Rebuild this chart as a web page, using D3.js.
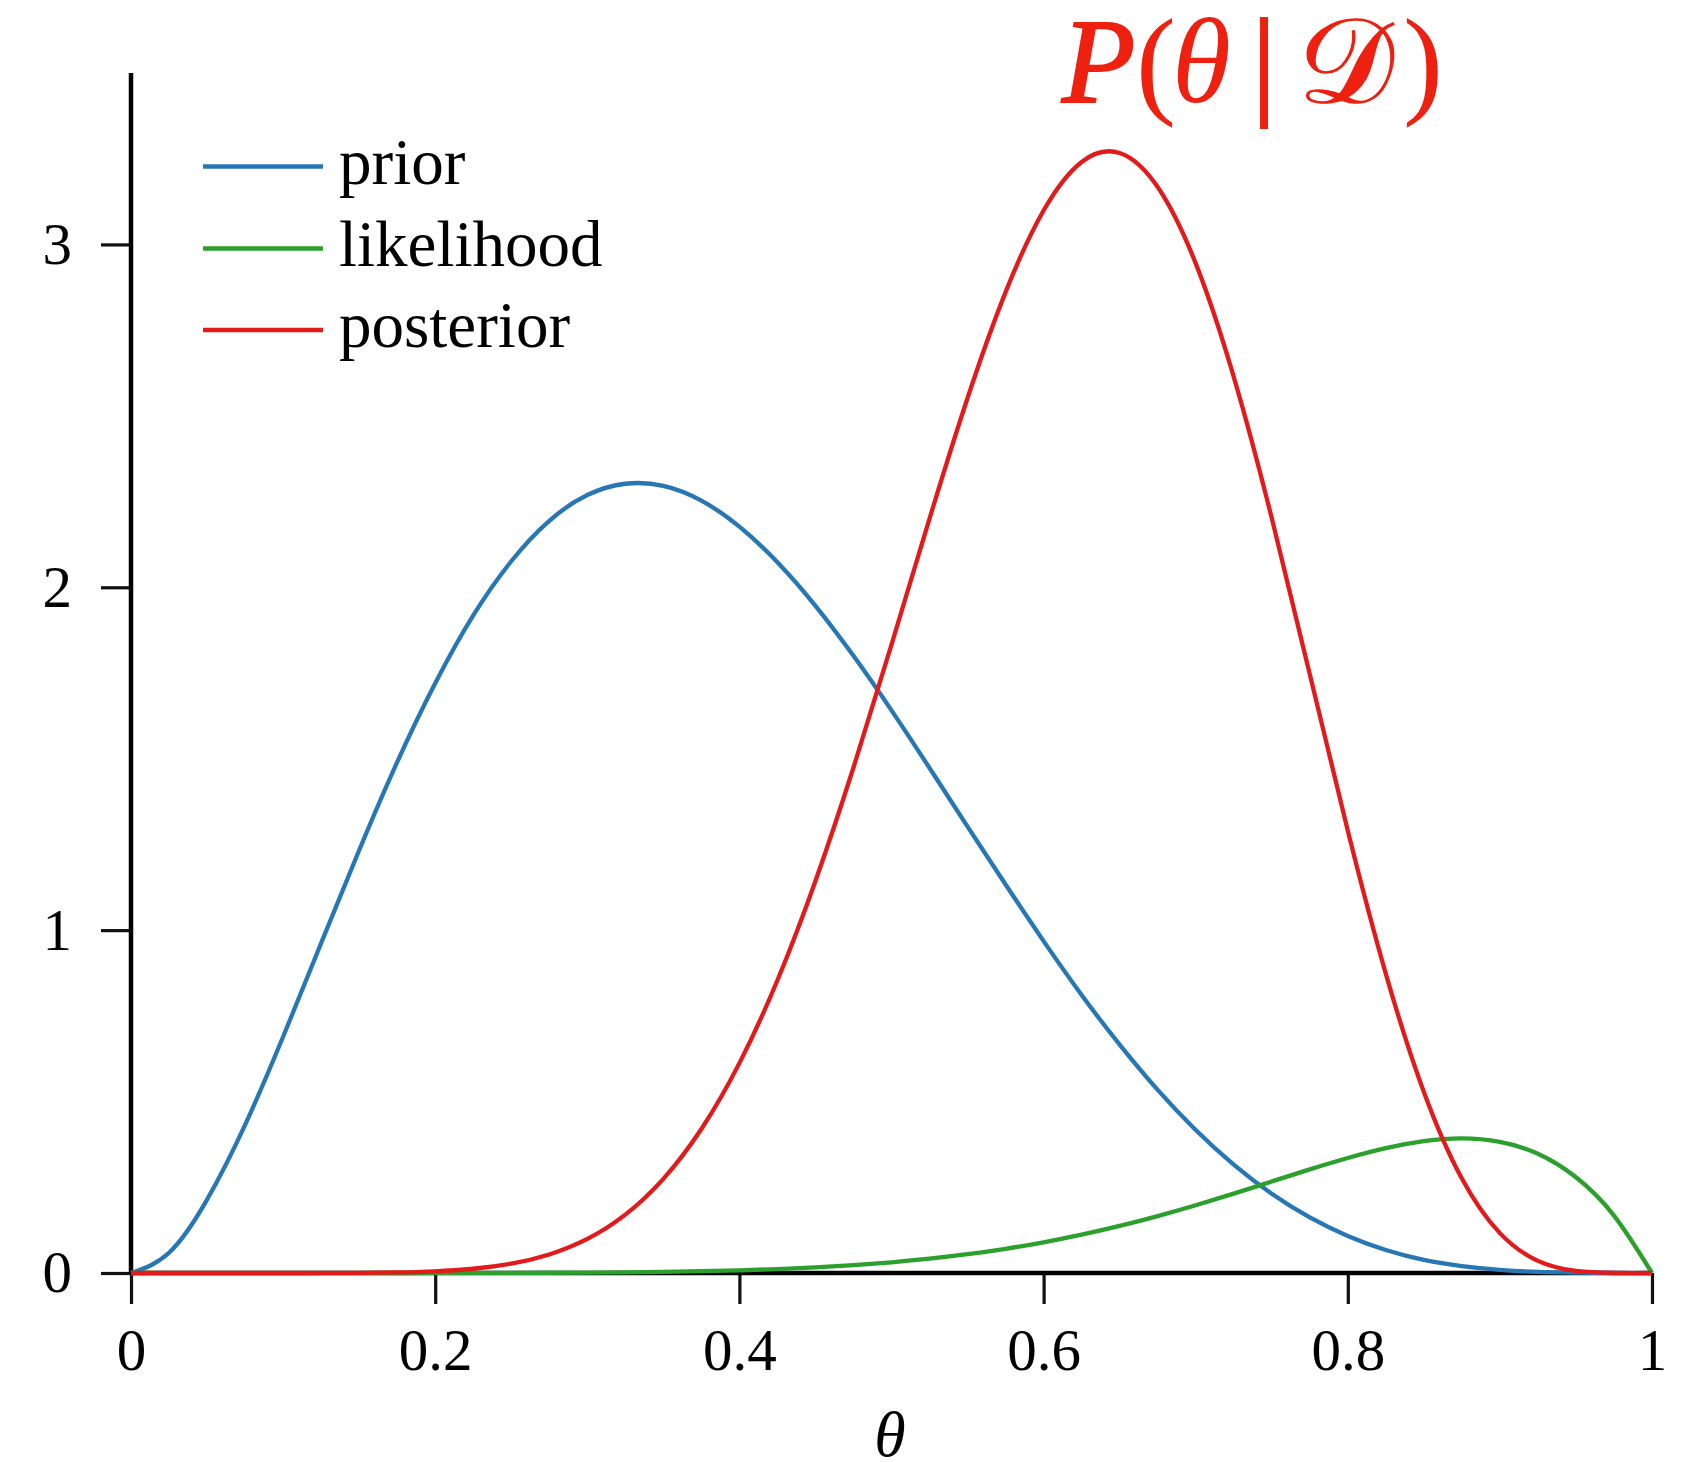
<!DOCTYPE html>
<html>
<head>
<meta charset="utf-8">
<script src="https://cdn.jsdelivr.net/npm/d3@7/dist/d3.min.js"></script>
<style>
  html, body { margin: 0; padding: 0; background: #fff; }
  svg { display: block; }
</style>
</head>
<body>
<svg id="chart"></svg>
<script>
// theta grid and curve values
const thetaValues = [0, 0.025, 0.05, 0.075, 0.1, 0.125, 0.15, 0.175, 0.2, 0.225,
    0.25, 0.275, 0.3, 0.325, 0.35, 0.375, 0.4, 0.425, 0.45, 0.475,
    0.5, 0.525, 0.55, 0.575, 0.6, 0.625, 0.65, 0.675, 0.7, 0.725,
    0.75, 0.775, 0.8, 0.825, 0.85, 0.875, 0.9, 0.925, 0.95, 0.975, 1];

const priorValues = [0, 0.059, 0.214, 0.432, 0.689, 0.962, 1.233, 1.490, 1.720, 1.918,
    2.076, 2.194, 2.269, 2.302, 2.296, 2.253, 2.177, 2.073, 1.946, 1.800,
    1.641, 1.473, 1.302, 1.133, 0.968, 0.811, 0.666, 0.534, 0.417, 0.316,
    0.231, 0.162, 0.108, 0.067, 0.038, 0.020, 0.009, 0.003, 0.001, 0, 0];

const likelihoodValues = [0, 0, 0, 0, 0, 0, 0, 0, 0.0001, 0.0002,
    0.0004, 0.0007, 0.0012, 0.0021, 0.0034, 0.0052, 0.0079, 0.0115, 0.0164, 0.0229,
    0.0313, 0.0418, 0.0548, 0.0707, 0.0896, 0.1118, 0.1373, 0.1660, 0.1976, 0.2316,
    0.2670, 0.3023, 0.3355, 0.3642, 0.3847, 0.3927, 0.3826, 0.3477, 0.2793, 0.1675, 0];

const posteriorValues = [0, 0, 0, 0, 0, 0.0001, 0.0005, 0.0018, 0.0050, 0.0124,
    0.0272, 0.0541, 0.0993, 0.1702, 0.2746, 0.4200, 0.6121, 0.8539, 1.1436, 1.4743,
    1.8329, 2.2002, 2.5520, 2.8609, 3.0990, 3.2406, 3.2668, 3.1675, 2.9447, 2.6137,
    2.2019, 1.7466, 1.2898, 0.8726, 0.5282, 0.2755, 0.1163, 0.0353, 0.0059, 0.0002, 0];

const seriesNames = ["prior", "likelihood", "posterior"];
const seriesColors = ["#2877b5", "#2ca02c", "#e31a1c"];

const xTickValues = [0, 0.2, 0.4, 0.6, 0.8, 1];
const xTickLabels = ["0", "0.2", "0.4", "0.6", "0.8", "1"];
const yTickValues = [0, 1, 2, 3];
const yTickLabels = ["0", "1", "2", "3"];

const width = 1692;
const height = 1462;
const margin = { top: 73, right: 40, bottom: 189, left: 131 };
const serif = "'Liberation Serif', 'Times New Roman', serif";

const svg = d3.select("#chart")
    .attr("width", width)
    .attr("height", height)
    .attr("viewBox", `0 0 ${width} ${height}`);

const xScale = d3.scaleLinear()
    .domain([0, 1])
    .range([margin.left, width - margin.right]);

const yScale = d3.scaleLinear()
    .domain([0, 3.5])
    .range([height - margin.bottom, margin.top]);

// X axis
const xAxis = svg.append("g")
    .attr("transform", `translate(0,${yScale(0)})`)
    .call(d3.axisBottom(xScale)
        .tickValues(xTickValues)
        .tickFormat((d, i) => xTickLabels[i])
        .tickSize(31)
        .tickSizeOuter(0)
        .tickPadding(24));

// Y axis
const yAxis = svg.append("g")
    .attr("transform", `translate(${xScale(0)},0)`)
    .call(d3.axisLeft(yScale)
        .tickValues(yTickValues)
        .tickFormat((d, i) => yTickLabels[i])
        .tickSize(30)
        .tickSizeOuter(0)
        .tickPadding(29));

[xAxis, yAxis].forEach(ax => {
    ax.select(".domain").remove();
    ax.selectAll(".tick line")
        .attr("stroke", "#111")
        .attr("stroke-width", 3.2);
    ax.selectAll(".tick text")
        .attr("fill", "#000")
        .style("font-family", serif)
        .style("font-size", "59px");
});

// axis lines
svg.append("line")
    .attr("x1", xScale(0))
    .attr("x2", xScale(1))
    .attr("y1", yScale(0))
    .attr("y2", yScale(0))
    .attr("stroke", "#000")
    .attr("stroke-width", 4.5);

svg.append("line")
    .attr("x1", xScale(0))
    .attr("x2", xScale(0))
    .attr("y1", yScale(0) + 2)
    .attr("y2", yScale(3.5))
    .attr("stroke", "#000")
    .attr("stroke-width", 4.5);

// curves
const allSeries = [priorValues, likelihoodValues, posteriorValues];

const lineGenerator = d3.line()
    .x(d => xScale(d[0]))
    .y(d => yScale(d[1]))
    .curve(d3.curveNatural);

allSeries.forEach((values, i) => {
    svg.append("path")
        .attr("fill", "none")
        .attr("stroke", seriesColors[i])
        .attr("stroke-width", 4.3)
        .attr("stroke-linejoin", "round")
        .attr("d", lineGenerator(thetaValues.map((t, j) => [t, values[j]])));
});

// legend
const legendY = [166.5, 248.5, 330];
seriesNames.forEach((name, i) => {
    svg.append("line")
        .attr("x1", 203)
        .attr("x2", 323)
        .attr("y1", legendY[i])
        .attr("y2", legendY[i])
        .attr("stroke", seriesColors[i])
        .attr("stroke-width", 4.3);

    svg.append("text")
        .attr("x", 339)
        .attr("y", legendY[i] + 17)
        .attr("fill", "#000")
        .style("font-family", serif)
        .style("font-size", "65px")
        .text(name);
});

// x axis label
svg.append("text")
    .attr("x", 890)
    .attr("y", 1456)
    .attr("text-anchor", "middle")
    .attr("fill", "#000")
    .style("font-family", serif)
    .style("font-style", "italic")
    .style("font-size", "64px")
    .text("θ");

// posterior annotation
const title = svg.append("text")
    .attr("y", 102)
    .attr("fill", "#ee2010")
    .style("font-family", serif)
    .style("font-size", "120px");

title.append("tspan").attr("x", 1062).style("font-style", "italic")
    .attr("stroke", "#ee2010").attr("stroke-width", 2).text("P");
title.append("tspan").attr("x", 1136).text("(");
title.append("tspan").attr("x", 1172).style("font-style", "italic").text("θ");
title.append("tspan").attr("x", 1252).attr("stroke", "#ee2010").attr("stroke-width", 2).text("|");
title.append("tspan").attr("x", 1298).attr("stroke", "#ee2010").attr("stroke-width", 1.5).text("𝒟");
title.append("tspan").attr("x", 1403).text(")");
</script>
</body>
</html>
